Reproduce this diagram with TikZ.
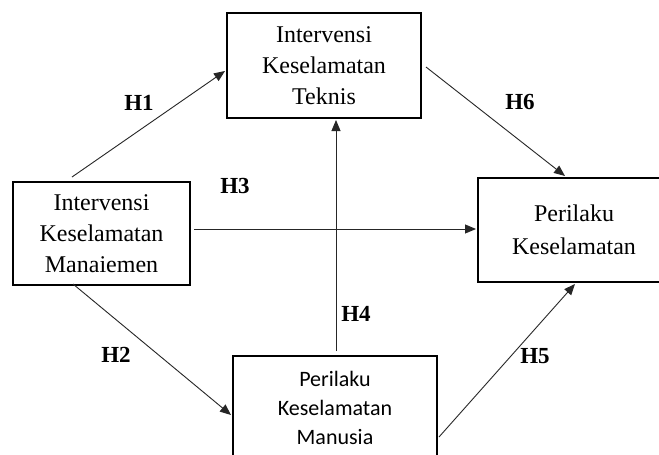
\documentclass[tikz,border=0pt]{standalone}
\usepackage{fontspec}
\setmainfont{Liberation Serif}
\newfontfamily\calib{Carlito}
\usetikzlibrary{arrows.meta}
\begin{document}
\begin{tikzpicture}[x=1pt,y=-1pt,
  boxa/.style={draw=black,line width=2pt,rectangle,align=center,inner sep=0pt,
    font=\fontsize{24}{31}\selectfont},
  conn/.style={draw=black!85,line width=0.9pt,-{Triangle[length=11pt,width=9pt]}},
  hlab/.style={font=\fontsize{23}{24}\selectfont\bfseries,inner sep=0pt}]
\useasboundingbox (0,0) rectangle (659,455);
\clip (0,0) rectangle (659,455);
\fill[white] (0,0) rectangle (659,455);
\node[boxa,minimum width=177pt,minimum height=103pt] (mgmt) at (101.5,233.5) {Intervensi\\Keselamatan\\Manaiemen};
\node[boxa,minimum width=194pt,minimum height=105pt] (tech) at (324,65.5) {Intervensi\\Keselamatan\\Teknis};
\node[boxa,minimum width=192pt,minimum height=104pt,font=\fontsize{24}{33}\selectfont] (beh) at (574,230) {Perilaku\\Keselamatan};
\node[boxa,minimum width=204pt,minimum height=104pt,font=\calib\fontsize{22}{29}\selectfont] (hum) at (335,408) {Perilaku\\Keselamatan\\Manusia};
\draw[conn] ([xshift=60pt,yshift=4pt]mgmt.north west) -- ([xshift=-1pt,yshift=-5.5pt]tech.west);
\draw[conn] ([xshift=61pt,yshift=2pt]mgmt.south west) -- ([xshift=-1pt,yshift=-7pt]hum.west);
\draw[conn] ([xshift=3pt,yshift=4.5pt]mgmt.east) -- ([xshift=-1pt,yshift=1pt]beh.west);
\draw[conn] ([xshift=1pt,yshift=4pt]hum.north) -- ([xshift=12pt,yshift=-1pt]tech.south);
\draw[conn] ([xshift=1pt,yshift=-29pt]hum.east) -- ([xshift=98pt,yshift=-1pt]beh.south west);
\draw[conn] ([xshift=4pt,yshift=-1.5pt]tech.east) -- ([xshift=88pt,yshift=1pt]beh.north west);
\node[hlab] (h1) at (139,103) {H1};
\node[hlab] (h2) at (116,355) {H2};
\node[hlab] (h3) at (235,186) {H3};
\node[hlab] (h4) at (356,314) {H4};
\node[hlab] (h5) at (535,356) {H5};
\node[hlab] (h6) at (520,102) {H6};
\end{tikzpicture}
\end{document}
